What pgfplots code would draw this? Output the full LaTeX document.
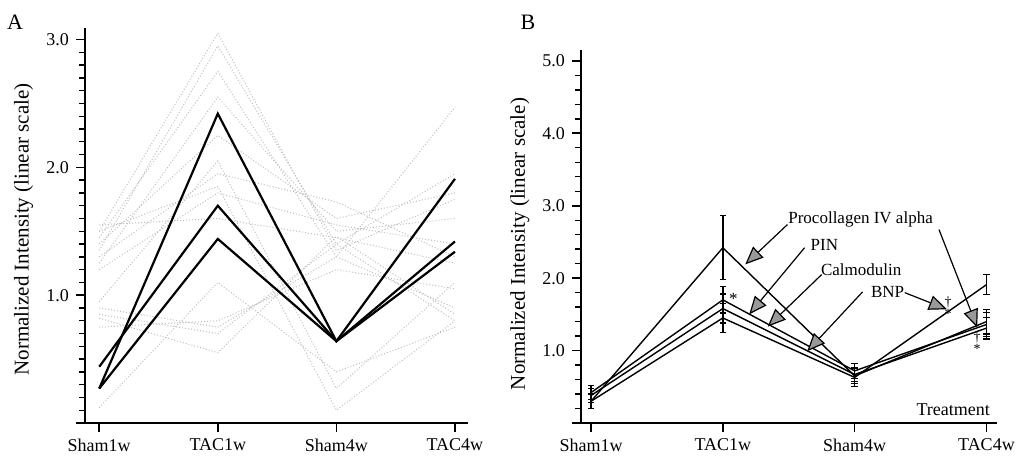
\documentclass[border=0pt]{standalone}
\usepackage{fontspec}
\setmainfont{Liberation Serif}
\usepackage{pgfplots}
\pgfplotsset{compat=1.18}
\usetikzlibrary{arrows.meta}

\pgfplotsset{
  panel/.style={
    scale only axis,
    axis x line*=bottom, axis y line*=left,
    axis line style={line width=0.9pt},
    ymin=0,
    xtick={0,1,2,3},
    xticklabels={Sham1w,TAC1w,Sham4w,TAC4w},
    tick align=outside,
    major tick length=4.5pt, minor tick length=2.8pt,
    tick style={line width=0.8pt,black},
    minor tick style={line width=0.7pt,black},
    x tick label style={font=\fontsize{9}{10}\selectfont},
    y tick label style={font=\fontsize{9}{10}\selectfont},
    ylabel={Normalized Intensity (linear scale)},
    ylabel style={font=\fontsize{10.5}{12}\selectfont,anchor=center},
    clip=false,
  },
  grayline/.style={gray!50,densely dotted,line width=0.5pt},
  blackA/.style={black,line width=1.1pt},
  lineB/.style={black,line width=0.7pt,
    error bars/.cd,y dir=both,y explicit,
    error bar style={line width=0.8pt,black},
    error mark options={rotate=90,mark size=1.6pt,line width=0.6pt,black}},
}
\tikzset{anno/.style={black,line width=0.6pt,-{Triangle[length=9pt,width=7.5pt,fill=gray!80]}}}

\begin{document}
\begin{tikzpicture}
\path[use as bounding box] (0,0) rectangle (510pt,228.5pt);

\node[font=\fontsize{11}{12}\selectfont] at (7.5pt,217.5pt) {A};
\node[font=\fontsize{11}{12}\selectfont] at (264pt,217.5pt) {B};

% ---- panel A
\begin{axis}[panel,
  at={(42.5pt,17pt)}, anchor=south west,
  width=191.5pt, height=197.5pt,
  xmin=-0.12, xmax=3.11, ymax=3.09,
  ytick={0,1,2,3}, yticklabels={,1.0,2.0,3.0},
  minor y tick num=9,
  ylabel style={at={(axis description cs:-0.16,0.49)}},
]
\addplot[grayline] coordinates {(0,1.50) (1,3.05) (2,1.35) (3,1.75)};
\addplot[grayline] coordinates {(0,1.35) (1,2.95) (2,1.40) (3,1.95)};
\addplot[grayline] coordinates {(0,1.45) (1,2.75) (2,1.30) (3,2.47)};
\addplot[grayline] coordinates {(0,1.25) (1,2.55) (2,1.50) (3,1.60)};
\addplot[grayline] coordinates {(0,1.40) (1,2.25) (2,1.60) (3,1.80)};
\addplot[grayline] coordinates {(0,1.30) (1,1.95) (2,1.73) (3,1.30)};
\addplot[grayline] coordinates {(0,1.20) (1,1.80) (2,1.55) (3,1.40)};
\addplot[grayline] coordinates {(0,1.55) (1,1.60) (2,1.45) (3,1.25)};
\addplot[grayline] coordinates {(0,0.85) (1,0.70) (2,1.40) (3,0.80)};
\addplot[grayline] coordinates {(0,0.82) (1,0.55) (2,1.46) (3,0.85)};
\addplot[grayline] coordinates {(0,0.90) (1,0.75) (2,1.30) (3,0.90)};
\addplot[grayline] coordinates {(0,0.75) (1,0.80) (2,1.20) (3,1.05)};
\addplot[grayline] coordinates {(0,1.50) (1,1.85) (2,0.10) (3,0.80)};
\addplot[grayline] coordinates {(0,0.95) (1,2.05) (2,0.27) (3,1.10)};
\addplot[grayline] coordinates {(0,0.12) (1,1.10) (2,0.40) (3,0.75)};

\addplot[blackA] coordinates {(0,0.27) (1,2.42) (2,0.64) (3,1.42)};
\addplot[blackA] coordinates {(0,0.44) (1,1.70) (2,0.64) (3,1.34)};
\addplot[blackA] coordinates {(0,0.27) (1,1.44) (2,0.64) (3,1.91)};
\end{axis}

% ---- panel B
\begin{axis}[panel,
  at={(290.5pt,17pt)}, anchor=south west,
  width=208pt, height=186.5pt,
  xmin=-0.076, xmax=3.08, ymax=5.15,
  ytick={0,1,2,3,4,5}, yticklabels={,1.0,2.0,3.0,4.0,5.0},
  minor y tick num=4,
  ylabel style={at={(axis description cs:-0.147,0.48)}},
]
% Procollagen IV alpha
\addplot[lineB] coordinates {(0,0.30) +- (0,0.10) (1,2.42) +- (0,0.44) (2,0.65) +- (0,0.10) (3,1.40) +- (0,0.17)};
% PIN
\addplot[lineB] coordinates {(0,0.42) +- (0,0.10) (1,1.70) +- (0,0.18) (2,0.72) +- (0,0.10) (3,1.36) +- (0,0.17)};
% Calmodulin
\addplot[lineB] coordinates {(0,0.38) +- (0,0.10) (1,1.58) +- (0,0.20) (2,0.67) +- (0,0.10) (3,1.31) +- (0,0.15)};
% BNP
\addplot[lineB] coordinates {(0,0.30) +- (0,0.10) (1,1.45) +- (0,0.20) (2,0.63) +- (0,0.13) (3,1.91) +- (0,0.14)};

\node[font=\fontsize{8.5}{10}\selectfont] at (axis cs:2.045,2.81) {Procollagen IV alpha};
\node[font=\fontsize{8.5}{10}\selectfont] at (axis cs:1.77,2.46) {PIN};
\node[font=\fontsize{8.5}{10}\selectfont] at (axis cs:2.05,2.12) {Calmodulin};
\node[font=\fontsize{8.5}{10}\selectfont] at (axis cs:2.25,1.81) {BNP};
\draw[anno] (axis cs:1.49,2.74) -- (axis cs:1.17,2.19);
\draw[anno] (axis cs:2.64,2.67) -- (axis cs:2.93,1.32);
\draw[anno] (axis cs:1.62,2.42) -- (axis cs:1.20,1.50);
\draw[anno] (axis cs:1.75,2.05) -- (axis cs:1.34,1.33);
\draw[anno] (axis cs:2.06,1.81) -- (axis cs:1.64,0.99);
\draw[anno] (axis cs:2.38,1.80) -- (axis cs:2.70,1.57);
\node[font=\fontsize{8.5}{10}\selectfont] at (axis cs:1.08,1.71) {*};
\node[font=\fontsize{7}{8}\selectfont] at (axis cs:2.71,1.66) {\textdagger};
\node[font=\fontsize{7}{8}\selectfont] at (axis cs:2.71,1.50) {*};
\node[font=\fontsize{7}{8}\selectfont] at (axis cs:2.93,1.18) {\textdagger};
\node[font=\fontsize{7}{8}\selectfont] at (axis cs:2.93,1.02) {*};
\node[font=\fontsize{9}{10}\selectfont,anchor=east] at (axis cs:3.08,0.19) {Treatment};
\end{axis}
\end{tikzpicture}
\end{document}
